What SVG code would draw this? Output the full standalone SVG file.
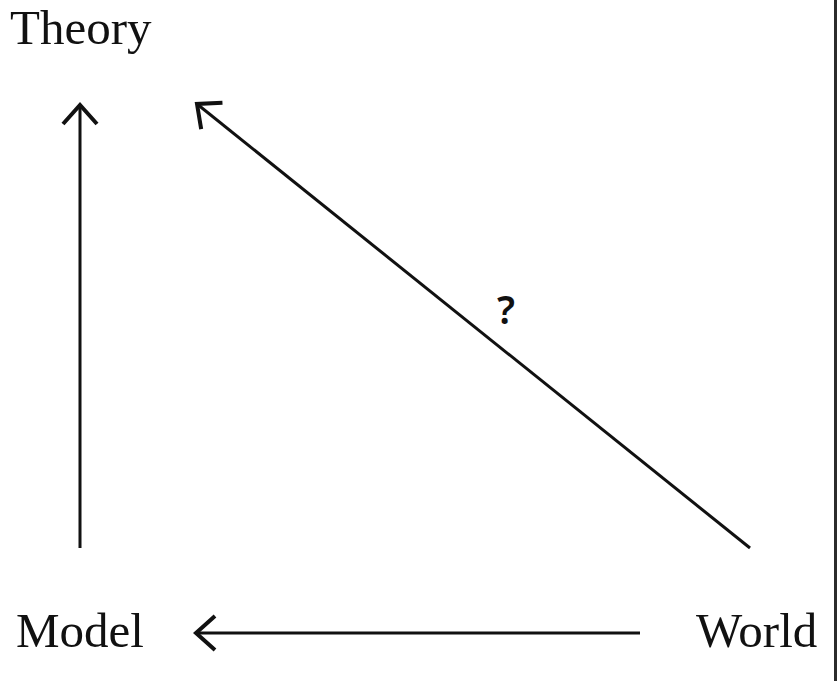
<svg xmlns="http://www.w3.org/2000/svg" width="837" height="681" viewBox="0 0 837 681">
<style>
.lbl{font-family:"Liberation Serif","DejaVu Serif",serif;font-size:49px;fill:#111}
.q{font-family:"Noto Sans","DejaVu Sans",sans-serif;font-size:39px;font-weight:600;fill:#111}
.conn{stroke:#111;stroke-width:3;fill:none}
</style>
<defs>
<marker id="ah" markerUnits="userSpaceOnUse" viewBox="-26 -22 30 44" markerWidth="30" markerHeight="44" refX="0" refY="0" orient="auto">
<path d="M -19 -17 L 0 0 L -19 17" fill="none" stroke="#111" stroke-width="4" stroke-linejoin="miter"/>
</marker>
</defs>
<rect x="0" y="0" width="837" height="681" fill="#fff"/>
<rect x="834" y="0" width="3" height="681" fill="#2b2b2b"/>
<g id="theory"><text class="lbl" x="10" y="44">Theory</text></g>
<g id="model"><text class="lbl" x="16" y="647">Model</text></g>
<g id="world"><text class="lbl" x="696" y="647">World</text></g>
<g id="connectors">
<line class="conn" x1="80" y1="548" x2="80" y2="105" marker-end="url(#ah)"/>
<line class="conn" x1="750" y1="548" x2="197" y2="104" marker-end="url(#ah)"/>
<line class="conn" x1="640" y1="633" x2="196" y2="633" marker-end="url(#ah)"/>
<text class="q" x="497" y="324">?</text>
</g>
</svg>
